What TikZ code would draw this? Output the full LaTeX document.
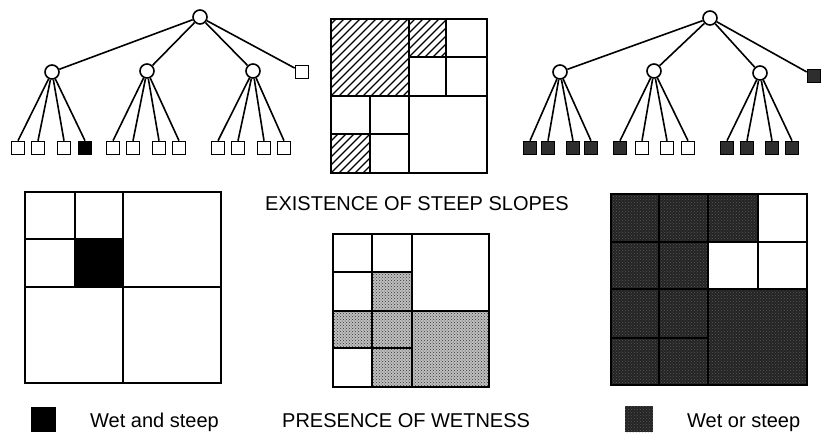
\documentclass[tikz,border=0pt]{standalone}
\usepackage{fontspec}
\setmainfont{Liberation Sans}
\usetikzlibrary{patterns}
\tikzset{
  inode/.style={circle,draw,line width=1.6pt,minimum size=14pt,inner sep=0pt,fill=white},
  leaf/.style={rectangle,draw,line width=1.6pt,minimum size=13pt,inner sep=0pt,fill=white},
  blackleaf/.style={leaf,fill=black},
  darkleaf/.style={leaf,fill=black!82},
  edge/.style={line width=1.6pt},
  gridline/.style={line width=2pt,line cap=rect},
  hatchline/.style={line width=1.1pt},
  lbl/.style={font=\fontsize{20}{24}\selectfont,inner sep=0pt},
  stipple/.style={fill=black!25,postaction={pattern=crosshatch dots,pattern color=black!80}},
  darkfill/.style={fill=black!86,postaction={pattern=crosshatch dots,pattern color=black!66}}
}
\newcommand\hatchbox[4]{%
  \begin{scope}
    \clip (#1,#2) rectangle (#3,#4);
    \foreach \k in {0,8,...,256} \draw[hatchline] (#1-168+\k,#4) -- ++(170,-170);
  \end{scope}}
\begin{document}
\begin{tikzpicture}[x=1pt,y=-1pt]
\useasboundingbox[fill=white] (0,0) rectangle (823,432);

% ---------- left tree ----------
\node[inode] (L) at (200,17) {};
\node[inode] (La) at (52,72) {};
\node[inode] (Lb) at (147,71) {};
\node[inode] (Lc) at (253,71) {};
\node[leaf] (Ld) at (302,72) {};
\foreach \n/\x/\s in {La1/18/leaf,La2/38/leaf,La3/64/leaf,La4/85/blackleaf,
  Lb1/113/leaf,Lb2/133/leaf,Lb3/159/leaf,Lb4/179/leaf,
  Lc1/218/leaf,Lc2/238/leaf,Lc3/264/leaf,Lc4/284/leaf}
  \node[\s] (\n) at (\x,148) {};
\foreach \c in {a,b,c} \draw[edge] (L) -- (L\c);
\draw[edge] (L) -- (Ld);
\foreach \c in {a,b,c} \foreach \i in {1,...,4} \draw[edge] (L\c) -- (L\c\i.north);

% ---------- right tree ----------
\node[inode] (R) at (710,18) {};
\node[inode] (Ra) at (560,72) {};
\node[inode] (Rb) at (654,71) {};
\node[inode] (Rc) at (760,73) {};
\node[darkleaf] (Rd) at (814,76) {};
\foreach \n/\x/\s in {Ra1/530/darkleaf,Ra2/548/darkleaf,Ra3/573/darkleaf,Ra4/591/darkleaf,
  Rb1/620/darkleaf,Rb2/642/leaf,Rb3/667/leaf,Rb4/688/leaf,
  Rc1/727/darkleaf,Rc2/747/darkleaf,Rc3/772/darkleaf,Rc4/792/darkleaf}
  \node[\s] (\n) at (\x,148) {};
\foreach \c in {a,b,c} \draw[edge] (R) -- (R\c);
\draw[edge] (R) -- (Rd);
\foreach \c in {a,b,c} \foreach \i in {1,...,4} \draw[edge] (R\c) -- (R\c\i.north);

% ---------- top middle quadtree (steep slopes) ----------
\hatchbox{331}{19}{409}{96}
\hatchbox{409}{19}{446}{57}
\hatchbox{331}{134}{370}{173}
\draw[gridline] (331,19) rectangle (487,173);
\draw[gridline] (409,19) -- (409,173);
\draw[gridline] (331,96) -- (487,96);
\draw[gridline] (446,19) -- (446,96);
\draw[gridline] (409,57) -- (487,57);
\draw[gridline] (370,96) -- (370,173);
\draw[gridline] (331,134) -- (409,134);

\node[lbl,anchor=base west] (steep) at (265,210) {EXISTENCE OF STEEP SLOPES};

% ---------- bottom left quadtree (wet and steep) ----------
\fill[black] (75,239) rectangle (123,287);
\draw[gridline] (25,192) rectangle (221,383);
\draw[gridline] (123,192) -- (123,383);
\draw[gridline] (25,287) -- (221,287);
\draw[gridline] (75,192) -- (75,287);
\draw[gridline] (25,239) -- (123,239);

% ---------- bottom middle quadtree (wetness) ----------
\path[stipple] (372,272) rectangle (412,311);
\path[stipple] (333,311) rectangle (412,348);
\path[stipple] (372,348) rectangle (412,387);
\path[stipple] (412,311) rectangle (489,387);
\draw[gridline] (333,234) rectangle (489,387);
\draw[gridline] (412,234) -- (412,387);
\draw[gridline] (333,311) -- (489,311);
\draw[gridline] (372,234) -- (372,387);
\draw[gridline] (333,272) -- (412,272);
\draw[gridline] (333,348) -- (412,348);

% ---------- bottom right quadtree (wet or steep) ----------
\path[darkfill] (611,194) rectangle (807,385);
\fill[white] (758,194) rectangle (807,242);
\fill[white] (708,242) rectangle (807,289);
\draw[gridline] (611,194) rectangle (807,385);
\draw[gridline] (659,194) -- (659,385);
\draw[gridline] (708,194) -- (708,385);
\draw[gridline] (758,194) -- (758,289);
\draw[gridline] (611,242) -- (807,242);
\draw[gridline] (611,289) -- (807,289);
\draw[gridline] (611,338) -- (708,338);

% ---------- legend ----------
\fill[black] (31,407) rectangle (56,432);
\node[lbl,anchor=base west] (wand) at (90,427) {Wet and steep};
\node[lbl,anchor=base west] (wet) at (282,427) {PRESENCE OF WETNESS};
\path[darkfill] (625,406) rectangle (653,432);
\node[lbl,anchor=base west] (wor) at (687,427) {Wet or steep};
\end{tikzpicture}
\end{document}
